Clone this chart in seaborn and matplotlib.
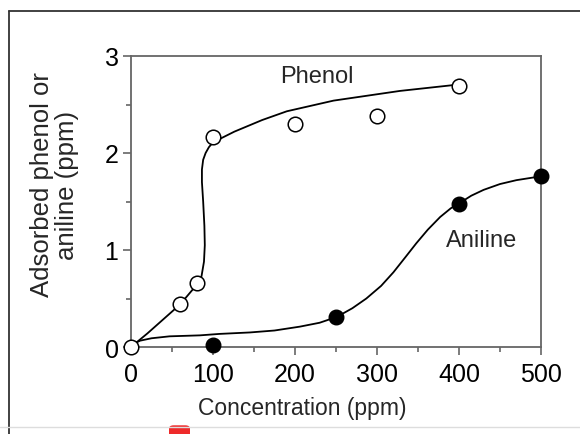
import matplotlib
matplotlib.use("Agg")
import matplotlib.pyplot as plt
from matplotlib.lines import Line2D
from matplotlib.patches import FancyBboxPatch
from matplotlib.ticker import MultipleLocator
import seaborn as sns
import pandas as pd

# measured points
phenol_x = [0, 60, 80, 100, 200, 300, 400]
phenol_y = [0, 0.44, 0.66, 2.16, 2.30, 2.38, 2.69]
aniline_x = [100, 250, 400, 500]
aniline_y = [0.02, 0.31, 1.47, 1.76]

# fitted curves
phenol_fit_x = [0, 20, 40, 60, 80, 86, 89, 90, 89.5, 88, 86.5, 86.5, 88, 91, 95, 100,
                126, 160, 190, 247, 328, 393, 400]
phenol_fit_y = [0, 0.14, 0.29, 0.44, 0.64, 0.73, 0.88, 1.05, 1.25, 1.5, 1.7, 1.83, 1.93, 2.0,
                2.06, 2.11, 2.22, 2.34, 2.43, 2.54, 2.64, 2.70, 2.71]
aniline_fit_x = [0, 5, 11, 25, 47, 84, 108, 145, 175, 206, 230, 251, 270, 287, 305, 320,
                 335, 348, 362, 377, 390, 400, 415, 430, 450, 470, 500]
aniline_fit_y = [0, 0.04, 0.065, 0.09, 0.11, 0.12, 0.135, 0.15, 0.17, 0.21, 0.25, 0.31, 0.40,
                 0.50, 0.63, 0.77, 0.93, 1.07, 1.21, 1.34, 1.43, 1.48, 1.56, 1.62, 1.68,
                 1.72, 1.76]

sns.set_style("ticks")
plt.rcParams["font.family"] = ["Liberation Sans", "DejaVu Sans"]

fig = plt.figure(figsize=(5.8, 4.35), dpi=100)
ax = fig.add_axes([131 / 580, 1 - 348 / 435, 410 / 580, 291 / 435])

pf = pd.DataFrame({"x": phenol_fit_x, "y": phenol_fit_y})
af = pd.DataFrame({"x": aniline_fit_x, "y": aniline_fit_y})
sns.lineplot(data=af, x="x", y="y", sort=False, estimator=None, color="black",
             linewidth=1.3, ax=ax, zorder=2)
sns.lineplot(data=pf, x="x", y="y", sort=False, estimator=None, color="black",
             linewidth=1.3, ax=ax, zorder=2)

sns.scatterplot(x=aniline_x, y=aniline_y, ax=ax, color="black", edgecolor="black",
                s=110, linewidth=1.0, zorder=3, clip_on=False)
sns.scatterplot(x=phenol_x, y=phenol_y, ax=ax, color="white", edgecolor="black",
                s=110, linewidth=1.1, zorder=4, clip_on=False)

ax.text(227, 2.79, "Phenol", fontsize=17, ha="center", va="center")
ax.text(427, 1.10, "Aniline", fontsize=17, ha="center", va="center")

ax.set_xlim(0, 500)
ax.set_ylim(0, 3)
ax.xaxis.set_major_locator(MultipleLocator(100))
ax.xaxis.set_minor_locator(MultipleLocator(50))
ax.yaxis.set_major_locator(MultipleLocator(1))
ax.yaxis.set_minor_locator(MultipleLocator(0.5))

spine_col = "#666666"
for s in ax.spines.values():
    s.set_visible(True)
    s.set_color(spine_col)
    s.set_linewidth(1.3)
ax.tick_params(which="both", direction="out", color=spine_col, width=1.2,
               top=False, right=False, labelsize=18, labelcolor="black")
ax.tick_params(which="major", length=6)
ax.tick_params(axis="x", which="major", pad=5)
ax.tick_params(axis="y", which="major", pad=3)
ax.tick_params(which="minor", length=3.5)

ax.set_xlabel("Concentration (ppm)", fontsize=16.5)
ax.xaxis.set_label_coords(0.418, -0.168)
ax.set_ylabel("Adsorbed phenol or\naniline (ppm)", fontsize=18.5,
              multialignment="center", linespacing=1.05)
ax.yaxis.set_label_coords(-0.127, 0.56)

# outer frame and page artefacts
fig.add_artist(Line2D([9 / 580, 9 / 580], [0, 1 - 12 / 435], transform=fig.transFigure,
                      color="#333333", linewidth=1.3))
fig.add_artist(Line2D([9 / 580, 1], [1 - 12 / 435, 1 - 12 / 435], transform=fig.transFigure,
                      color="#333333", linewidth=1.3))
fig.add_artist(Line2D([0, 1], [1 - 428 / 435, 1 - 428 / 435], transform=fig.transFigure,
                      color="#dddddd", linewidth=1.0))
fig.add_artist(FancyBboxPatch((169 / 580, -0.01), 21 / 580, 0.03,
                              boxstyle="round,pad=0,rounding_size=0.008",
                              transform=fig.transFigure, facecolor="#ee2a2a",
                              edgecolor="none"))

fig.savefig("out.png", dpi=100)
